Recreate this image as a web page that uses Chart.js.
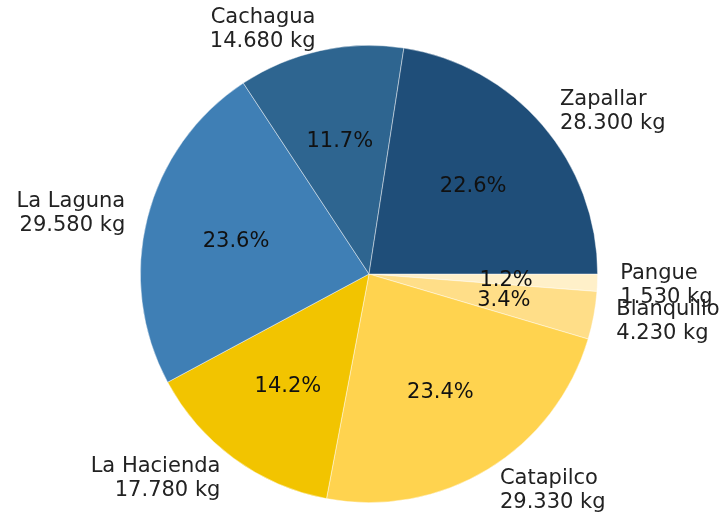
<!DOCTYPE html>
<html>
<head>
<meta charset="utf-8">
<script src="https://cdn.jsdelivr.net/npm/chart.js@4/dist/chart.umd.min.js"></script>
<style>
  html, body { margin: 0; padding: 0; background: #fff; }
  #wrap { width: 722px; height: 518px; }
</style>
</head>
<body>
<div id="wrap"><canvas id="grafica" width="722" height="518"></canvas></div>
<script>
// Datos (orden de matplotlib: antihorario desde las 3 en punto)
const zonas = ["Zapallar", "Cachagua", "La Laguna", "La Hacienda", "Catapilco", "Blanquillo", "Pangue"];
const kilos = [28.30, 14.68, 29.58, 17.78, 29.33, 4.23, 1.53];
const etiquetasKg = ["28.300 kg", "14.680 kg", "29.580 kg", "17.780 kg", "29.330 kg", "4.230 kg", "1.530 kg"];
const colores = ["#1F4E79", "#2E6590", "#3F7FB5", "#F2C400", "#FFD34F", "#FFDE88", "#FFF0C9"];

// Chart.js dibuja en sentido horario, asi que se invierte el orden
const zonasR = zonas.slice().reverse();
const kilosR = kilos.slice().reverse();
const kgR = etiquetasKg.slice().reverse();
const coloresR = colores.slice().reverse();

const FUENTE = "21px 'DejaVu Sans', sans-serif";

// Plugin para etiquetas exteriores y porcentajes interiores
const textosPie = {
  id: "textosPie",
  afterDatasetsDraw(chart) {
    const ctx = chart.ctx;
    const meta = chart.getDatasetMeta(0);
    const total = kilosR.reduce((a, b) => a + b, 0);
    ctx.save();
    ctx.font = FUENTE;
    ctx.textBaseline = "middle";
    meta.data.forEach((arc, i) => {
      const p = arc.getProps(["x", "y", "startAngle", "endAngle", "outerRadius"], true);
      const mid = (p.startAngle + p.endAngle) / 2;
      const cx = Math.cos(mid), cy = Math.sin(mid);

      // porcentaje
      ctx.fillStyle = "#111";
      ctx.textAlign = "center";
      const pct = (kilosR[i] / total * 100).toFixed(1) + "%";
      ctx.fillText(pct, p.x + cx * p.outerRadius * 0.6, p.y + cy * p.outerRadius * 0.6 + 1.5);

      // etiqueta exterior
      const lx = p.x + cx * p.outerRadius * 1.1;
      const ly = p.y + cy * p.outerRadius * 1.1 + 1.5;
      ctx.fillStyle = "#222";
      ctx.textAlign = cx >= 0 ? "left" : "right";
      ctx.fillText(zonasR[i], lx, ly - 12);
      ctx.fillText(kgR[i], lx, ly + 12);
    });
    ctx.restore();
  }
};

const ctx = document.getElementById("grafica").getContext("2d");
new Chart(ctx, {
  type: "pie",
  data: {
    labels: zonasR,
    datasets: [{
      data: kilosR,
      backgroundColor: coloresR,
      borderColor: "rgba(255,255,255,0.55)",
      borderWidth: 0.8,
      hoverOffset: 0
    }]
  },
  options: {
    responsive: false,
    animation: false,
    rotation: 90,
    layout: { padding: { top: 45, bottom: 15, left: 140, right: 124 } },
    plugins: {
      legend: { display: false },
      tooltip: { enabled: false }
    }
  },
  plugins: [textosPie]
});
</script>
</body>
</html>
